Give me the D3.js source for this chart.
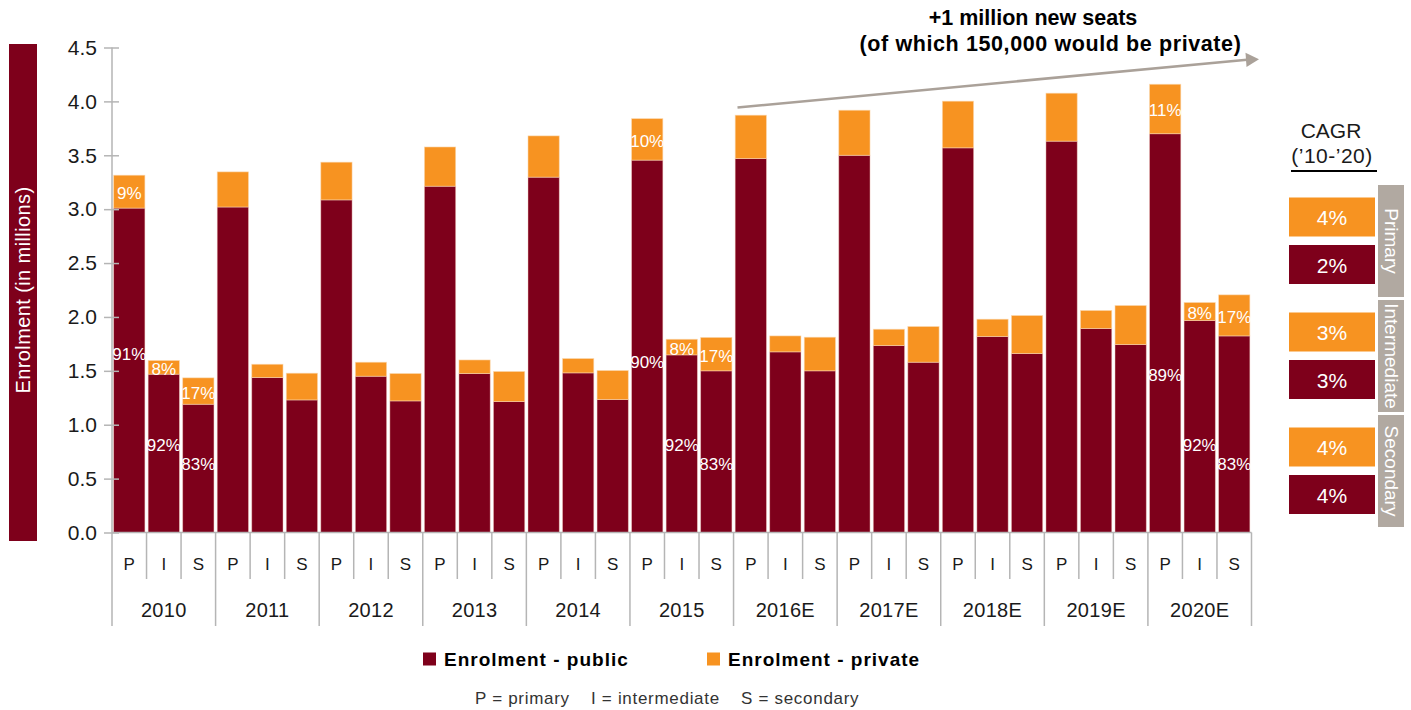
<!DOCTYPE html>
<html>
<head>
<meta charset="utf-8">
<script src="https://cdn.jsdelivr.net/npm/d3@7"></script>
<style>
  html, body { margin: 0; padding: 0; background: #fff; }
  svg { display: block; font-family: "Liberation Sans", Arial, Helvetica, sans-serif; }
</style>
</head>
<body>
<script>
// Enrolment by level (millions), public and private seats per year
const years = ["2010", "2011", "2012", "2013", "2014", "2015", "2016E", "2017E", "2018E", "2019E", "2020E"];
const levels = ["P", "I", "S"];

const publicPrimary      = [3.010, 3.020, 3.086, 3.213, 3.297, 3.455, 3.470, 3.500, 3.569, 3.631, 3.700];
const privatePrimary     = [0.305, 0.326, 0.350, 0.364, 0.383, 0.385, 0.402, 0.418, 0.433, 0.445, 0.459];
const publicIntermediate = [1.469, 1.438, 1.450, 1.475, 1.481, 1.648, 1.676, 1.735, 1.819, 1.893, 1.967];
const privateIntermediate= [0.127, 0.123, 0.130, 0.126, 0.133, 0.145, 0.148, 0.151, 0.160, 0.167, 0.167];
const publicSecondary    = [1.190, 1.230, 1.221, 1.215, 1.234, 1.500, 1.500, 1.580, 1.661, 1.744, 1.824];
const privateSecondary   = [0.245, 0.248, 0.254, 0.279, 0.269, 0.310, 0.312, 0.331, 0.352, 0.362, 0.381];

// years whose bars carry share labels
const labelledYears = ["2010", "2015", "2020E"];

const yTicks = [0, 0.5, 1.0, 1.5, 2.0, 2.5, 3.0, 3.5, 4.0, 4.5];

// compound annual growth, 2010-2020
const cagrGroups  = ["Primary", "Intermediate", "Secondary"];
const cagrPrivate = ["4%", "3%", "4%"];
const cagrPublic  = ["2%", "3%", "4%"];

const legendItems = ["Enrolment - public", "Enrolment - private"];
const keyItems = ["P = primary", "I = intermediate", "S = secondary"];

// ---------------------------------------------------------------
const C_PUBLIC = "#7e001b";
const C_PRIVATE = "#f79321";
const C_GRID = "#b5b5b5";
const C_TEXT = "#1a1a1a";
const C_TAB = "#b1a9a1";

const publicBy = { P: publicPrimary, I: publicIntermediate, S: publicSecondary };
const privateBy = { P: privatePrimary, I: privateIntermediate, S: privateSecondary };

const rows = [];
years.forEach((yr, yi) => {
  levels.forEach(lv => {
    rows.push({ year: yr, level: lv, pub: publicBy[lv][yi], priv: privateBy[lv][yi] });
  });
});
rows.forEach((d, i) => d.idx = i);

const svg = d3.select("body").append("svg")
  .attr("width", 1411).attr("height", 710);

const y = d3.scaleLinear().domain([0, 4.5]).range([532.5, 47.5]);
const x = d3.scaleBand().domain(rows.map(d => d.idx))
  .range([112, 1251.5]).paddingInner(0.095).paddingOuter(0.0475);
const step = x.step();
const x0 = 112;

// y-axis title block
svg.append("rect").attr("x", 9).attr("y", 44).attr("width", 28).attr("height", 497).attr("fill", C_PUBLIC);
svg.append("text")
  .attr("transform", "translate(23,290) rotate(-90)")
  .attr("text-anchor", "middle").attr("dominant-baseline", "central")
  .attr("fill", "#fff").attr("font-size", 20).attr("letter-spacing", 0.4)
  .text("Enrolment (in millions)");

// bars
const bars = svg.append("g");
bars.selectAll("rect.pub").data(rows).join("rect")
  .attr("class", "pub")
  .attr("x", d => x(d.idx)).attr("width", x.bandwidth())
  .attr("y", d => y(d.pub)).attr("height", d => y(0) - y(d.pub))
  .attr("fill", C_PUBLIC)
  .attr("stroke", "#f2c9bd").attr("stroke-opacity", 0.55).attr("stroke-width", 0.8);
bars.selectAll("rect.priv").data(rows).join("rect")
  .attr("class", "priv")
  .attr("x", d => x(d.idx)).attr("width", x.bandwidth())
  .attr("y", d => y(d.pub + d.priv)).attr("height", d => y(d.pub) - y(d.pub + d.priv))
  .attr("fill", C_PRIVATE)
  .attr("stroke", "#fbd9b0").attr("stroke-opacity", 0.7).attr("stroke-width", 0.8);

// y axis
const yAxis = d3.axisLeft(y).tickValues(yTicks).tickFormat(d3.format(".1f"))
  .tickSizeInner(8).tickSizeOuter(0).tickPadding(7);
const ga = svg.append("g").attr("transform", `translate(${x0},0)`).call(yAxis);
ga.select(".domain").remove();
ga.selectAll(".tick line").attr("x1", -8).attr("x2", 7).attr("stroke", C_GRID).attr("stroke-width", 1.5);
ga.selectAll(".tick text").attr("font-size", 21).attr("fill", C_TEXT)
  .attr("font-family", "Liberation Sans, Arial, sans-serif");
svg.append("line").attr("x1", x0).attr("x2", x0).attr("y1", y(4.5)).attr("y2", 626)
  .attr("stroke", C_GRID).attr("stroke-width", 1.5);

// baseline and category separators
svg.append("line").attr("x1", x0).attr("x2", x0 + step * rows.length)
  .attr("y1", y(0)).attr("y2", y(0)).attr("stroke", C_GRID).attr("stroke-width", 1.5);
const seps = d3.range(1, rows.length + 1);
svg.append("g").selectAll("line").data(seps).join("line")
  .attr("x1", i => x0 + i * step).attr("x2", i => x0 + i * step)
  .attr("y1", y(0)).attr("y2", i => (i % 3 === 0 ? 626 : 579))
  .attr("stroke", C_GRID).attr("stroke-width", 1.5);

// level letters and year labels
svg.append("g").selectAll("text").data(rows).join("text")
  .attr("x", d => x(d.idx) + x.bandwidth() / 2).attr("y", 570)
  .attr("text-anchor", "middle").attr("font-size", 17).attr("fill", C_TEXT)
  .text(d => d.level);
svg.append("g").selectAll("text").data(years).join("text")
  .attr("x", (d, i) => x0 + (i * 3 + 1.5) * step).attr("y", 617)
  .attr("text-anchor", "middle").attr("font-size", 20).attr("letter-spacing", 0.3).attr("fill", C_TEXT)
  .text(d => d);

// share labels
const pct = v => Math.round(v * 100) + "%";
const publicLabelAt = { P: { "2010": 1.65, "2015": 1.58, "2020E": 1.46 }, I: 0.81, S: 0.63 };
const lab = rows.filter(d => labelledYears.includes(d.year));
const gl = svg.append("g").attr("fill", "#fff").attr("font-size", 17).attr("text-anchor", "middle");
gl.selectAll("text.top").data(lab).join("text")
  .attr("class", "top")
  .attr("x", d => x(d.idx) + x.bandwidth() / 2)
  .attr("y", d => (y(d.pub) + y(d.pub + d.priv)) / 2 + 2)
  .attr("dominant-baseline", "central")
  .text(d => pct(d.priv / (d.pub + d.priv)));
gl.selectAll("text.bot").data(lab).join("text")
  .attr("class", "bot")
  .attr("x", d => x(d.idx) + x.bandwidth() / 2)
  .attr("y", d => {
    const a = publicLabelAt[d.level];
    return y(typeof a === "number" ? a : a[d.year]);
  })
  .attr("dominant-baseline", "central")
  .text(d => pct(d.pub / (d.pub + d.priv)));

// growth arrow and note
svg.append("line").attr("x1", 737.5).attr("y1", 107.5).attr("x2", 1247).attr("y2", 59.8)
  .attr("stroke", "#aaa199").attr("stroke-width", 2.6);
svg.append("polygon").attr("points", "1259,59.2 1245.5,52.8 1246.5,67")
  .attr("fill", "#aaa199");
svg.append("text").attr("x", 1033).attr("y", 25).attr("text-anchor", "middle")
  .attr("font-weight", "bold").attr("font-size", 21.5).attr("fill", "#000")
  .text("+1 million new seats");
svg.append("text").attr("x", 1050.5).attr("y", 51).attr("text-anchor", "middle")
  .attr("font-weight", "bold").attr("font-size", 21.5).attr("letter-spacing", 0.6).attr("fill", "#000")
  .text("(of which 150,000 would be private)");

// CAGR panel
svg.append("text").attr("x", 1331).attr("y", 138).attr("text-anchor", "middle")
  .attr("font-size", 21).attr("fill", C_TEXT).text("CAGR");
svg.append("text").attr("x", 1332).attr("y", 163).attr("text-anchor", "middle")
  .attr("font-size", 21).attr("letter-spacing", 0.5).attr("fill", C_TEXT).text("(’10-’20)");
svg.append("line").attr("x1", 1291).attr("x2", 1377).attr("y1", 171).attr("y2", 171)
  .attr("stroke", "#000").attr("stroke-width", 1.8);

const groupTop = [185, 300, 415];
const cg = svg.append("g");
cagrGroups.forEach((g, i) => {
  const t = groupTop[i];
  cg.append("rect").attr("x", 1378).attr("y", t).attr("width", 26).attr("height", 112).attr("fill", C_TAB);
  cg.append("text").attr("transform", `translate(1391,${t + 56}) rotate(90)`)
    .attr("text-anchor", "middle").attr("dominant-baseline", "central")
    .attr("fill", "#fff").attr("font-size", 19).text(g);
  cg.append("rect").attr("x", 1289).attr("y", t + 12.5).attr("width", 86).attr("height", 39).attr("fill", C_PRIVATE);
  cg.append("text").attr("x", 1332).attr("y", t + 32.5).attr("text-anchor", "middle")
    .attr("dominant-baseline", "central").attr("fill", "#fff").attr("font-size", 21).text(cagrPrivate[i]);
  cg.append("rect").attr("x", 1289).attr("y", t + 60).attr("width", 86).attr("height", 39).attr("fill", C_PUBLIC);
  cg.append("text").attr("x", 1332).attr("y", t + 80).attr("text-anchor", "middle")
    .attr("dominant-baseline", "central").attr("fill", "#fff").attr("font-size", 21).text(cagrPublic[i]);
});

// legend
const legX = [423, 707];
const legC = [C_PUBLIC, C_PRIVATE];
const lg = svg.append("g");
legendItems.forEach((t, i) => {
  lg.append("rect").attr("x", legX[i]).attr("y", 652.5).attr("width", 13).attr("height", 13).attr("fill", legC[i]);
  lg.append("text").attr("x", legX[i] + 21).attr("y", 665.5).attr("font-weight", "bold")
    .attr("font-size", 19).attr("letter-spacing", 1).attr("fill", "#000").text(t);
});

// level key
const keyX = [475, 591, 741];
svg.append("g").selectAll("text").data(keyItems).join("text")
  .attr("x", (d, i) => keyX[i]).attr("y", 704)
  .attr("font-size", 17).attr("letter-spacing", 0.7).attr("fill", "#333").text(d => d);
</script>
</body>
</html>
